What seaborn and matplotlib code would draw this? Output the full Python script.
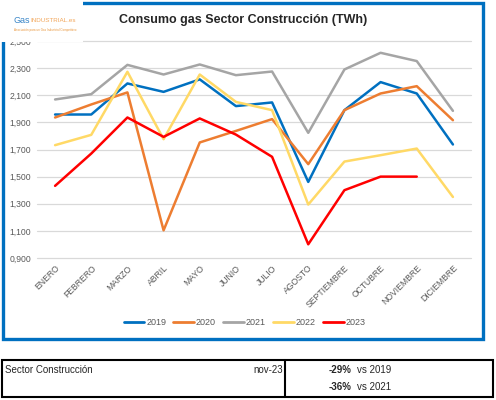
import pandas as pd
import matplotlib.pyplot as plt
import seaborn as sns
from matplotlib.patches import Rectangle
from matplotlib.lines import Line2D

# === Data (TWh) ===
months = ["ENERO", "FEBRERO", "MARZO", "ABRIL", "MAYO", "JUNIO", "JULIO",
          "AGOSTO", "SEPTIEMBRE", "OCTUBRE", "NOVIEMBRE", "DICIEMBRE"]
years = ["2019", "2020", "2021", "2022", "2023"]
v2019 = [1.958, 1.958, 2.187, 2.125, 2.217, 2.020, 2.047, 1.461, 1.990, 2.197, 2.113, 1.737]
v2020 = [1.936, 2.032, 2.121, 1.104, 1.752, 1.837, 1.924, 1.592, 1.990, 2.113, 2.167, 1.916]
v2021 = [2.069, 2.108, 2.324, 2.253, 2.327, 2.248, 2.275, 1.823, 2.290, 2.413, 2.352, 1.985]
v2022 = [1.732, 1.808, 2.273, 1.776, 2.253, 2.051, 1.990, 1.294, 1.611, 1.658, 1.707, 1.350]
v2023 = [1.432, 1.670, 1.936, 1.793, 1.929, 1.810, 1.646, 1.001, 1.400, 1.500, 1.500, None]
y_ticks = [0.9, 1.1, 1.3, 1.5, 1.7, 1.9, 2.1, 2.3, 2.5]
y_labels = ["0,900", "1,100", "1,300", "1,500", "1,700", "1,900", "2,100", "2,300", "2,500"]
colors = ["#0070C0", "#ED7D31", "#A5A5A5", "#FFD966", "#FF0000"]

rows = []
for yr, vals in zip(years, [v2019, v2020, v2021, v2022, v2023]):
    for i, v in enumerate(vals):
        if v is not None:
            rows.append({"mes": i, "year": yr, "twh": v})
df = pd.DataFrame(rows)

sns.set_style("white")
plt.rcParams["font.family"] = ["Liberation Sans", "DejaVu Sans"]

fig = plt.figure(figsize=(4.96, 4.0), dpi=100)
ax = fig.add_axes([0.0746, 0.355, 0.875, 0.5425])

for y in y_ticks:
    ax.axhline(y, color="#D9D9D9", lw=0.9, zorder=0, clip_on=False)

sns.lineplot(data=df, x="mes", y="twh", hue="year", hue_order=years,
             palette=colors, linewidth=1.8, legend=False, ax=ax, zorder=3)

ax.set_xlim(-0.5, 11.5)
ax.set_ylim(0.9, 2.5)
ax.set_yticks(y_ticks)
ax.set_yticklabels(y_labels, fontsize=6.2, color="#595959")
ax.set_xticks(range(12))
ax.set_xticklabels(months, fontsize=6.2, color="#595959", rotation=45,
                   ha="right", rotation_mode="anchor")
ax.tick_params(axis="both", length=0, pad=4)
ax.set_xlabel("")
ax.set_ylabel("")
for s in ax.spines.values():
    s.set_visible(False)

# legend
handles = [Line2D([0], [0], color=c, lw=2.0) for c in colors]
fig.legend(handles, years, loc="center", bbox_to_anchor=(0.493, 0.193), ncol=5,
           frameon=False, fontsize=6.5, handlelength=2.3, handletextpad=0.2,
           columnspacing=0.8, labelcolor="#595959")

# blue frame around the chart
fig.patches.append(Rectangle((0.006, 0.152), 0.967, 0.84, transform=fig.transFigure,
                             fill=False, edgecolor="#0070C0", lw=2.4))

# logo box
fig.patches.append(Rectangle((0.0, 0.894), 0.167, 0.106, transform=fig.transFigure,
                             facecolor="white", edgecolor="none", zorder=5))
fig.text(0.028, 0.948, "Gas", fontsize=6.5, color="#3A86C8", ha="left", va="center",
         zorder=6)
fig.text(0.062, 0.948, "INDUSTRIAL.es", fontsize=4.5, color="#F2A65A", ha="left",
         va="center", zorder=6)
fig.text(0.028, 0.925, "Asociación para un Gas Industrial Competitivo", fontsize=2.2,
         color="#E8963C", ha="left", va="center", zorder=6)

fig.text(0.49, 0.95, "Consumo gas Sector Construcción (TWh)", fontsize=9,
         fontweight="bold", ha="center", va="center")

# summary table
fig.patches.append(Rectangle((0.005, 0.008), 0.988, 0.092, transform=fig.transFigure,
                             fill=False, edgecolor="black", lw=1.5))
fig.add_artist(Line2D([0.574, 0.574], [0.008, 0.1], transform=fig.transFigure,
                      color="black", lw=1.5))
fig.text(0.01, 0.075, "Sector Construcción", fontsize=7, ha="left", va="center")
fig.text(0.57, 0.075, "nov-23", fontsize=7, ha="right", va="center")
fig.text(0.663, 0.075, "-29%", fontsize=7, fontweight="bold", ha="left", va="center")
fig.text(0.72, 0.075, "vs 2019", fontsize=7, ha="left", va="center")
fig.text(0.663, 0.032, "-36%", fontsize=7, fontweight="bold", ha="left", va="center")
fig.text(0.72, 0.032, "vs 2021", fontsize=7, ha="left", va="center")

fig.savefig("out.png", dpi=100, facecolor="white")
